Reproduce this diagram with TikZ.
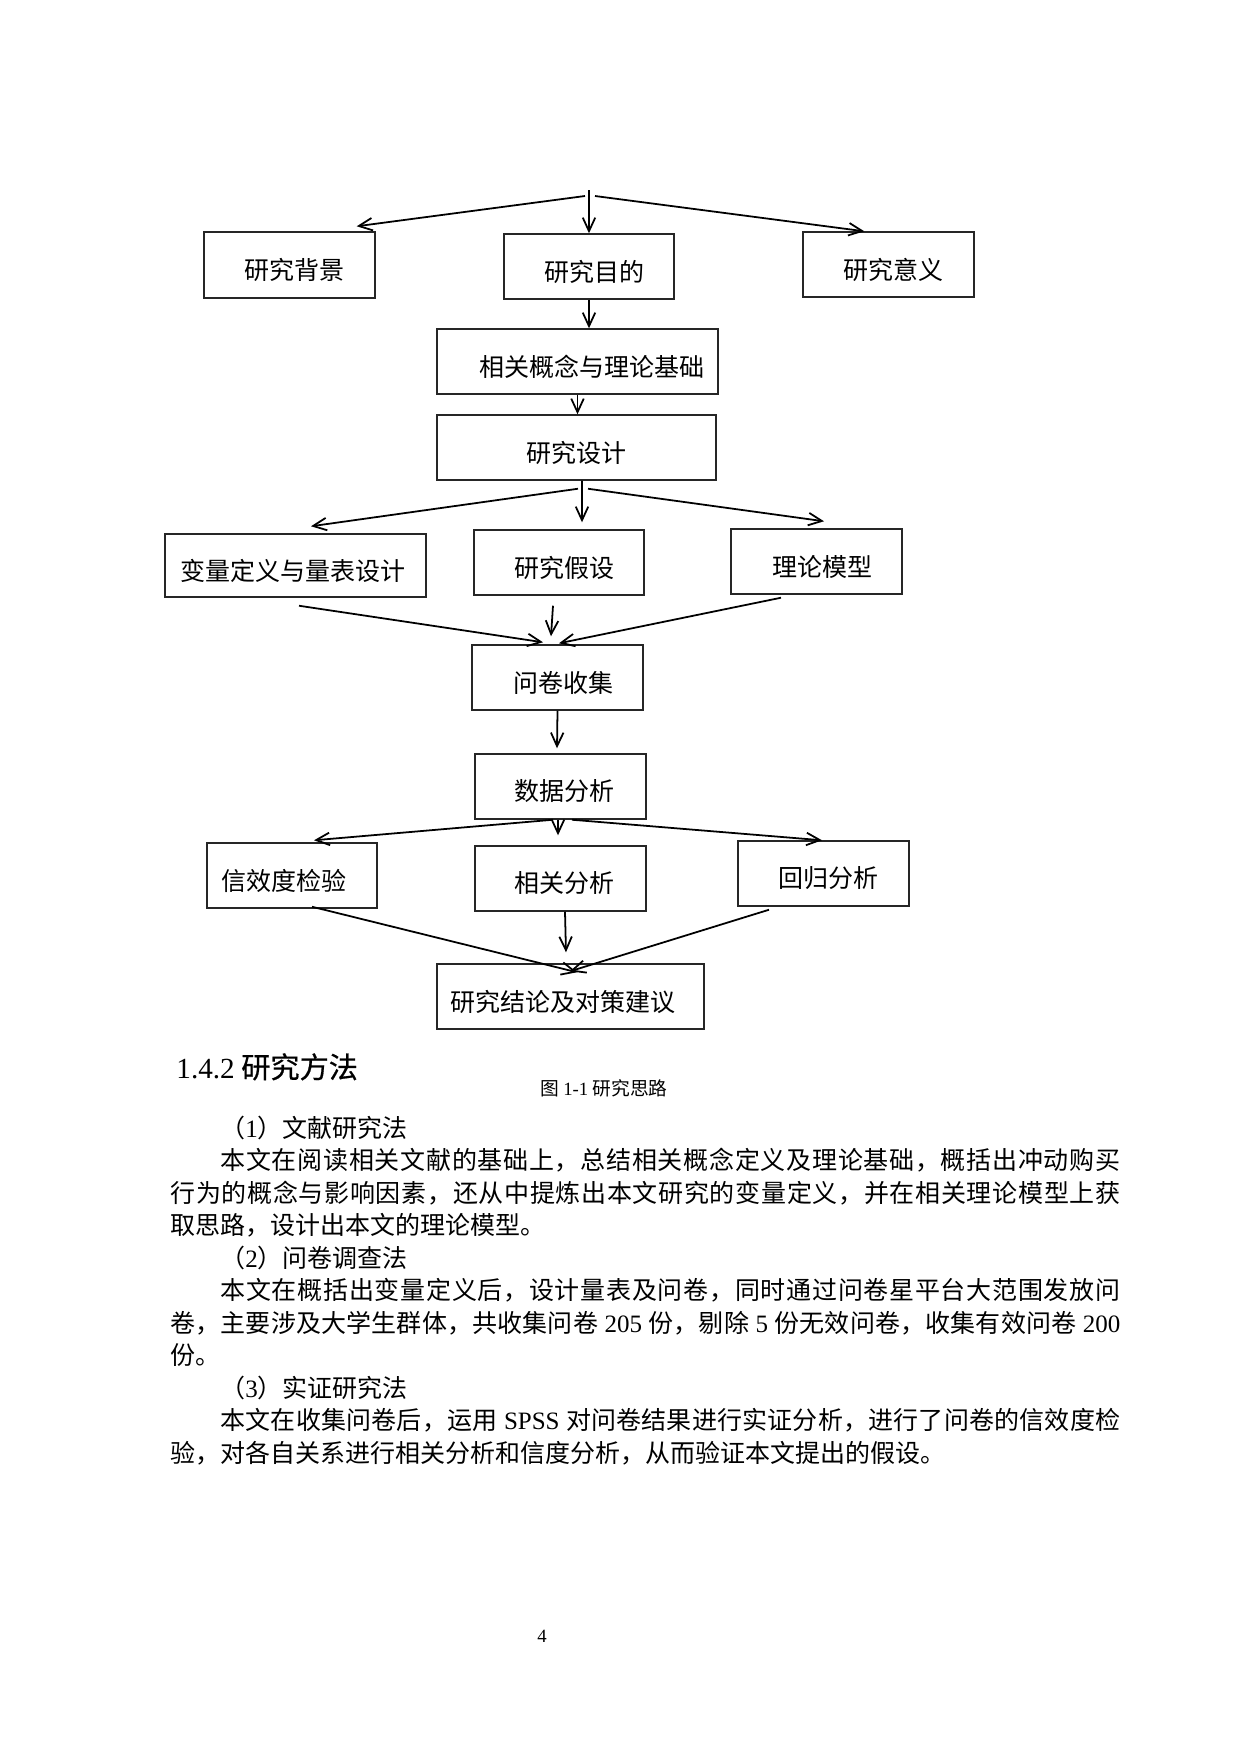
\documentclass[tikz,border=0pt]{standalone}
\usepackage{fontspec}
\setmainfont{Noto Sans CJK SC}
\newfontfamily\lat{Liberation Serif}
\newfontfamily\headcjk[FakeBold=0.6]{Noto Sans CJK SC}
\usetikzlibrary{arrows.meta,calc}
\newXeTeXintercharclass\myCJKclass
\count255="4E00
\loop
  \XeTeXcharclass\count255=\myCJKclass
  \ifnum\count255<"9FFF \advance\count255 by 1 \repeat
\XeTeXcharclass"FF0C=\myCJKclass
\XeTeXcharclass"3002=\myCJKclass
\XeTeXcharclass"3001=\myCJKclass
\XeTeXcharclass"FF08=\myCJKclass
\XeTeXcharclass"FF09=\myCJKclass
\XeTeXinterchartoks\myCJKclass\myCJKclass={\hskip 0pt plus 1pt\relax}
\newcommand\justline[1]{{\XeTeXinterchartokenstate=1 \hbox to 456pt{#1}}}
\begin{document}
\begin{tikzpicture}[x=0.48pt,y=-0.48pt,
  box/.style 2 args={draw=black!85, line width=0.7pt, minimum width=#1*0.48pt, minimum height=#2*0.48pt, inner sep=0pt},
  lbl/.style={font=\fontsize{12pt}{14pt}\selectfont, inner sep=0pt, yshift=-2.4pt},
  conn/.style={line width=0.85pt, -{Straight Barb[length=6.5pt,width=6pt]}},
  txt/.style={anchor=base west, inner sep=0pt, font=\fontsize{12pt}{14pt}\selectfont}]
\fill[white] (0,0) rectangle (1240,1754);
\useasboundingbox (0,0) rectangle (1240,1754);

% boxes
\node[box={171}{66}, label={[lbl,xshift=4.5*0.48pt]center:研究背景}] (bg) at (289.5,265) {};
\node[box={170}{65}, label={[lbl,xshift=5*0.48pt]center:研究目的}] (md) at (589,266.5) {};
\node[box={171}{65}, label={[lbl,xshift=4.5*0.48pt]center:研究意义}] (yy) at (888.5,264.5) {};
\node[box={281}{65}, label={[lbl,xshift=14*0.48pt]center:相关概念与理论基础}] (gn) at (577.5,361.5) {};
\node[box={279}{65}, label={[lbl]center:研究设计}] (sj) at (576.5,447.5) {};
\node[box={261}{63}, label={[lbl,xshift=-2.5*0.48pt]center:变量定义与量表设计}] (bl) at (295.5,565.5) {};
\node[box={170}{65}, label={[lbl,xshift=5*0.48pt]center:研究假设}] (js) at (559,562.5) {};
\node[box={171}{65}, label={[lbl,xshift=5.5*0.48pt]center:理论模型}] (mx) at (816.5,561.5) {};
\node[box={171}{65}, label={[lbl,xshift=5.5*0.48pt]center:问卷收集}] (wj) at (557.5,677.5) {};
\node[box={171}{65}, label={[lbl,xshift=3.5*0.48pt]center:数据分析}] (sf) at (560.5,786.5) {};
\node[box={170}{65}, label={[lbl,xshift=-8*0.48pt]center:信效度检验}] (xd) at (292,875.5) {};
\node[box={171}{65}, label={[lbl,xshift=3.5*0.48pt]center:相关分析}] (xg) at (560.5,878.5) {};
\node[box={171}{65}, label={[lbl,xshift=4.5*0.48pt]center:回归分析}] (hg) at (823.5,873.5) {};
\node[box={267}{65}, label={[lbl,xshift=-7.5*0.48pt]center:研究结论及对策建议}] (jl) at (570.5,996.5) {};

% connectors
\coordinate (top) at (589,190);
\draw[conn] (top) -- (md.north);
\draw[conn] ($(top)+(-4,6)$) -- ($(bg.north east)+(-19,-5)$);
\draw[conn] ($(top)+(6,6)$) -- ($(yy.north west)+(62,0)$);
\draw[conn] (md.south) -- (md.south |- gn.north);
\draw[conn] (gn.south) -- (gn.south |- sj.north);
\draw[conn] ($(sj.south)+(5.5,0)$) -- ($(js.north)+(23,-7)$);
\draw[conn] ($(sj.south)+(1.5,8)$) -- ($(bl.north)+(15.5,-7)$);
\draw[conn] ($(sj.south)+(11.5,8)$) -- ($(mx.north)+(7.5,-7)$);
\draw[conn] ($(bl.south)+(3.5,8)$) -- ($(wj.north)+(-14.5,-2)$);
\draw[conn] ($(js.south)+(-6,10)$) -- ($(wj.north)+(-6.5,-8)$);
\draw[conn] ($(mx.south)+(-35.5,3)$) -- ($(wj.north)+(1.5,-1)$);
\draw[conn] (wj.south) -- ($(sf.north)+(-3.5,-5)$);
\draw[conn] ($(sf.south)+(-2.5,0)$) -- ($(xg.north)+(-2.5,-10)$);
\draw[conn] ($(sf.south)+(-7.5,0)$) -- ($(xd.north)+(22,-2)$);
\draw[conn] ($(sf.south)+(11.5,0)$) -- ($(hg.north)+(-1.5,0)$);
\draw[conn] ($(xg.south)+(4.5,0)$) -- ($(jl.north)+(-4.5,-11)$);
\draw[conn] ($(xd.south)+(20,-2)$) -- ($(jl.north)+(6.5,9)$);
\draw[conn] ($(hg.south)+(-54.5,3)$) -- ($(jl.north)+(-0.5,8)$);

% heading and caption
\node[anchor=base west, inner sep=0pt, font=\fontsize{14pt}{16pt}\selectfont] (head) at (176,1078) {{\lat 1.4.2} {\headcjk 研究方法}};
\node[anchor=base west, inner sep=0pt, font=\fontsize{9pt}{11pt}\selectfont] (cap) at (540,1095) {图 {\lat 1-1} 研究思路};

% body text
\node[txt] (l0) at (170,1137) {\hspace*{2em}（{\lat 1}）文献研究法};
\node[txt] (l1) at (170,1169.5) {\justline{\hspace*{2em}本文在阅读相关文献的基础上，总结相关概念定义及理论基础，概括出冲动购买}};
\node[txt] (l2) at (170,1202) {\justline{行为的概念与影响因素，还从中提炼出本文研究的变量定义，并在相关理论模型上获}};
\node[txt] (l3) at (170,1234.5) {取思路，设计出本文的理论模型。};
\node[txt] (l4) at (170,1267) {\hspace*{2em}（{\lat 2}）问卷调查法};
\node[txt] (l5) at (170,1299.5) {\justline{\hspace*{2em}本文在概括出变量定义后，设计量表及问卷，同时通过问卷星平台大范围发放问}};
\node[txt] (l6) at (170,1332) {\justline{卷，主要涉及大学生群体，共收集问卷{\lat\ 205 }份，剔除{\lat\ 5 }份无效问卷，收集有效问卷{\lat\ 200}}};
\node[txt] (l7) at (170,1364.5) {份。};
\node[txt] (l8) at (170,1397) {\hspace*{2em}（{\lat 3}）实证研究法};
\node[txt] (l9) at (170,1429.5) {\justline{\hspace*{2em}本文在收集问卷后，运用{\lat\ SPSS }对问卷结果进行实证分析，进行了问卷的信效度检}};
\node[txt] (l10) at (170,1462) {验，对各自关系进行相关分析和信度分析，从而验证本文提出的假设。};

% page number
\node[anchor=base, inner sep=0pt, font=\lat\fontsize{9pt}{11pt}\selectfont] (pn) at (542,1642) {4};
\end{tikzpicture}
\end{document}
